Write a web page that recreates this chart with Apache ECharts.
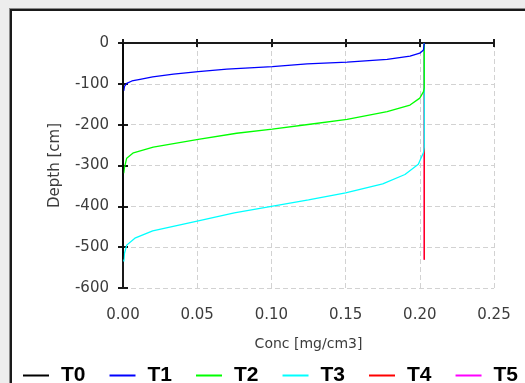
<!DOCTYPE html>
<html>
<head>
<meta charset="utf-8">
<script src="https://cdn.jsdelivr.net/npm/echarts@6/dist/echarts.min.js"></script>
<style>
    html, body {
        margin: 0;
        padding: 0;
        width: 525px;
        height: 383px;
        overflow: hidden;
        background: #ededed;
    }
    .frame {
        position: absolute;
        left: 9px;
        top: 8px;
        right: 0;
        bottom: 0;
        border-left: 1px solid #8a8a8a;
        border-top: 1px solid #8a8a8a;
    }
    .frame-inner {
        position: absolute;
        left: 0;
        top: 0;
        right: 0;
        bottom: 0;
        border-left: 2px solid #1a1a1a;
        border-top: 2px solid #1a1a1a;
        background: #fff;
    }
    #chart {
        position: absolute;
        left: 0;
        top: 0;
        width: 525px;
        height: 383px;
    }
</style>
</head>
<body>
<div class="frame"><div class="frame-inner"></div></div>
<div id="chart"></div>
<script>
// concentration profiles
const seriesNames = ['T0', 'T1', 'T2', 'T3', 'T4', 'T5']
const seriesColors = ['#000000', '#0000ff', '#00ff00', '#00ffff', '#ff0000', '#ff00ff']

const t0Conc = [0, 0]
const t0Depth = [0, -530]

const t1Conc = [0.0005, 0.001, 0.0025, 0.006, 0.0115, 0.02, 0.034, 0.0507, 0.07, 0.1006, 0.124, 0.151, 0.178, 0.1934, 0.2, 0.2025, 0.203]
const t1Depth = [-117, -106, -99, -93, -89, -83, -76, -70, -64, -58, -51, -47, -40, -32, -25, -17, 0]

const t2Conc = [0.0005, 0.001, 0.0025, 0.007, 0.0204, 0.0507, 0.0766, 0.1006, 0.126, 0.151, 0.178, 0.1934, 0.2, 0.2025, 0.203, 0.203]
const t2Depth = [-319, -305, -282, -269, -255, -236, -221, -211, -199, -187, -168, -152, -135, -119, -110, 0]

const t3Conc = [0.0005, 0.001, 0.0025, 0.008, 0.02, 0.05, 0.075, 0.1, 0.125, 0.15, 0.175, 0.19, 0.199, 0.2025, 0.203, 0.203]
const t3Depth = [-535, -515, -495, -478, -460, -436, -416, -400, -384, -367, -345, -322, -297, -268, -255, 0]

const t4Conc = [0.203, 0.203]
const t4Depth = [0, -531]

const t5Conc = [0.203, 0.203]
const t5Depth = [0, -531]

const xTicks = { min: 0, max: 0.25, interval: 0.05 }
const yTicks = { min: -600, max: 0, interval: 100 }

const profiles = [
    [t0Conc, t0Depth],
    [t1Conc, t1Depth],
    [t2Conc, t2Depth],
    [t3Conc, t3Depth],
    [t4Conc, t4Depth],
    [t5Conc, t5Depth],
]

const labelFont = {
    color: '#3c3c3c',
    fontFamily: 'DejaVu Sans',
    fontSize: 15,
}
const axisLineStyle = { color: '#1a1a1a', width: 2 }

// helper: an axis that only draws ticks (used for the "crossing" ticks)
function tickOnly(base, position, inside, len) {
    return Object.assign({}, base, {
        position: position,
        axisLine: { show: false },
        axisTick: { show: true, inside: inside, length: len, lineStyle: axisLineStyle },
        axisLabel: { show: false },
        splitLine: { show: false },
    })
}

const xBase = { type: 'value', min: xTicks.min, max: xTicks.max, interval: xTicks.interval }
const yBase = { type: 'value', min: yTicks.min, max: yTicks.max, interval: yTicks.interval }

const chart = echarts.init(document.getElementById('chart'))
const option = {
    animation: false,
    grid: {
        left: 123,
        top: 43,
        right: 31,
        bottom: 95,
    },
    legend: {
        left: 23,
        top: 365,
        width: 500,
        padding: 0,
        icon: 'rect',
        itemWidth: 26,
        itemHeight: 2,
        itemGap: 24,
        data: seriesNames,
        textStyle: {
            fontFamily: 'Liberation Sans',
            fontWeight: 'bold',
            fontSize: 21,
            color: '#000',
            padding: [0, 0, 0, 7],
        },
    },
    xAxis: [
        Object.assign({}, xBase, {
            position: 'bottom',
            name: 'Conc [mg/cm3]',
            nameLocation: 'middle',
            nameGap: 49,
            nameTextStyle: { color: '#3c3c3c', fontFamily: 'DejaVu Sans', fontSize: 14 },
            axisLine: { show: true, lineStyle: axisLineStyle },
            axisTick: { show: true, length: 4, lineStyle: axisLineStyle },
            axisLabel: Object.assign({}, labelFont, {
                margin: 20,
                formatter: function(v) {
                    return v.toFixed(2)
                },
            }),
            splitLine: {
                show: true,
                lineStyle: { color: '#d2d2d2', type: [5, 3], width: 1 },
            },
        }),
        tickOnly(xBase, 'bottom', true, 4),
        Object.assign({}, xBase, {
            position: 'top',
            axisLine: { show: true, lineStyle: axisLineStyle },
            axisTick: { show: true, length: 4, lineStyle: axisLineStyle },
            axisLabel: { show: false },
            splitLine: { show: false },
        }),
        tickOnly(xBase, 'top', true, 4),
    ],
    yAxis: [
        Object.assign({}, yBase, {
            position: 'left',
            name: 'Depth [cm]',
            nameLocation: 'middle',
            nameRotate: 90,
            nameGap: 60,
            nameTextStyle: { color: '#3c3c3c', fontFamily: 'DejaVu Sans', fontSize: 15 },
            axisLine: { show: true, lineStyle: axisLineStyle },
            axisTick: { show: true, length: 5, lineStyle: axisLineStyle },
            axisLabel: Object.assign({}, labelFont, { margin: 14 }),
            splitLine: {
                show: true,
                lineStyle: { color: '#d2d2d2', type: [5, 3], width: 1 },
            },
        }),
        tickOnly(yBase, 'left', true, 5),
    ],
    series: profiles.map(function(p, i) {
        return {
            name: seriesNames[i],
            type: 'line',
            xAxisIndex: 0,
            yAxisIndex: 0,
            // earlier profiles sit on top
            z: 10 - i,
            showSymbol: false,
            symbol: 'none',
            color: seriesColors[i],
            lineStyle: { color: seriesColors[i], width: 1.3 },
            data: p[0].map(function(c, k) {
                return [c, p[1][k]]
            }),
        }
    }),
}
chart.setOption(option)
</script>
</body>
</html>
